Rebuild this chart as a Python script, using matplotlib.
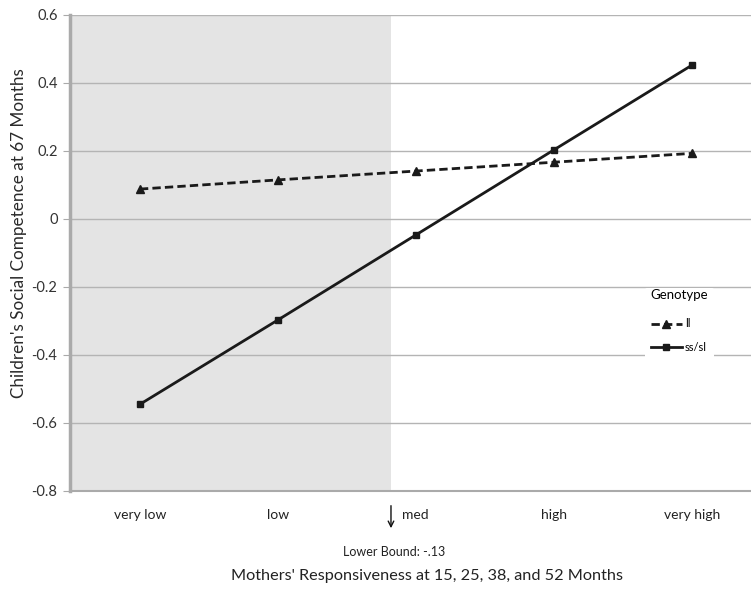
import numpy as np
import matplotlib.pyplot as plt

plt.rcParams['font.family'] = ['Lato', 'DejaVu Sans']

categories = ['very low', 'low', 'med', 'high', 'very high']
ll_values = [0.088, 0.115, 0.141, 0.167, 0.193]
sssl_values = [-0.545, -0.297, -0.047, 0.203, 0.452]
lower_bound_pos = 1.82
y_ticks = [-0.8, -0.6, -0.4, -0.2, 0, 0.2, 0.4, 0.6]
y_tick_labels = ['-0.8', '-0.6', '-0.4', '-0.2', '0', '0.2', '0.4', '0.6']

fig = plt.figure(figsize=(7.51, 5.95), dpi=100)
ax = fig.add_axes([70 / 751, 104 / 595, 681 / 751, 476 / 595])

x = np.arange(len(categories))

# shaded region of significance
ax.axvspan(-0.5, lower_bound_pos, color='#e4e4e4', zorder=0, lw=0)

for yt in y_ticks[1:]:
    ax.axhline(yt, color='#b4b4b4', lw=1.0, zorder=1)

ax.plot(x, ll_values, color='#1a1a1a', lw=2, ls=(0, (3, 1.5)), marker='^',
        markersize=6, label='ll', zorder=3)
ax.plot(x, sssl_values, color='#1a1a1a', lw=2, ls='-', marker='s',
        markersize=5, label='ss/sl', zorder=3)

ax.set_xlim(-0.507, 4.43)
ax.set_ylim(-0.8, 0.6)
ax.set_xticks(x)
ax.set_xticklabels(categories, fontsize=10, color='#222222')
ax.set_yticks(y_ticks)
ax.set_yticklabels(y_tick_labels, fontsize=10.5, color='#333333')
ax.tick_params(axis='x', length=0, pad=13)
ax.tick_params(axis='y', length=5, color='#aaaaaa', pad=4)

for s in ['top', 'right']:
    ax.spines[s].set_visible(False)
ax.spines['left'].set_color('#aaaaaa')
ax.spines['left'].set_linewidth(2.5)
ax.spines['bottom'].set_color('#aaaaaa')
ax.spines['bottom'].set_linewidth(1.5)

ax.set_ylabel("Children's Social Competence at 67 Months", fontsize=12.3,
              color='#2a2a2a')
ax.yaxis.set_label_coords(-0.063, 0.542)
fig.text(427 / 751, 1 - 576 / 595,
         "Mothers' Responsiveness at 15, 25, 38, and 52 Months",
         fontsize=11.7, color='#222222', ha='center', va='center')

ax.annotate('', xy=(lower_bound_pos, -0.084), xytext=(lower_bound_pos, -0.025),
            xycoords=('data', 'axes fraction'),
            arrowprops=dict(arrowstyle='->', lw=1.0, color='#111111'))
ax.text(lower_bound_pos + 0.02, -0.128, 'Lower Bound: -.13', fontsize=9,
        color='#222222', ha='center', va='center',
        transform=ax.get_xaxis_transform())

leg = ax.legend(title='Genotype', loc='center', bbox_to_anchor=(0.895, 0.352),
                frameon=True, fontsize=8, title_fontsize=9.5, handlelength=2.8,
                handletextpad=0.3, alignment='left', borderpad=0.5,
                labelspacing=1.15)
leg.get_title().set_position((0, 5))
leg.get_frame().set_facecolor('white')
leg.get_frame().set_edgecolor('none')
leg.get_frame().set_alpha(1)
leg.set_zorder(5)

fig.savefig('out.png', dpi=100)
